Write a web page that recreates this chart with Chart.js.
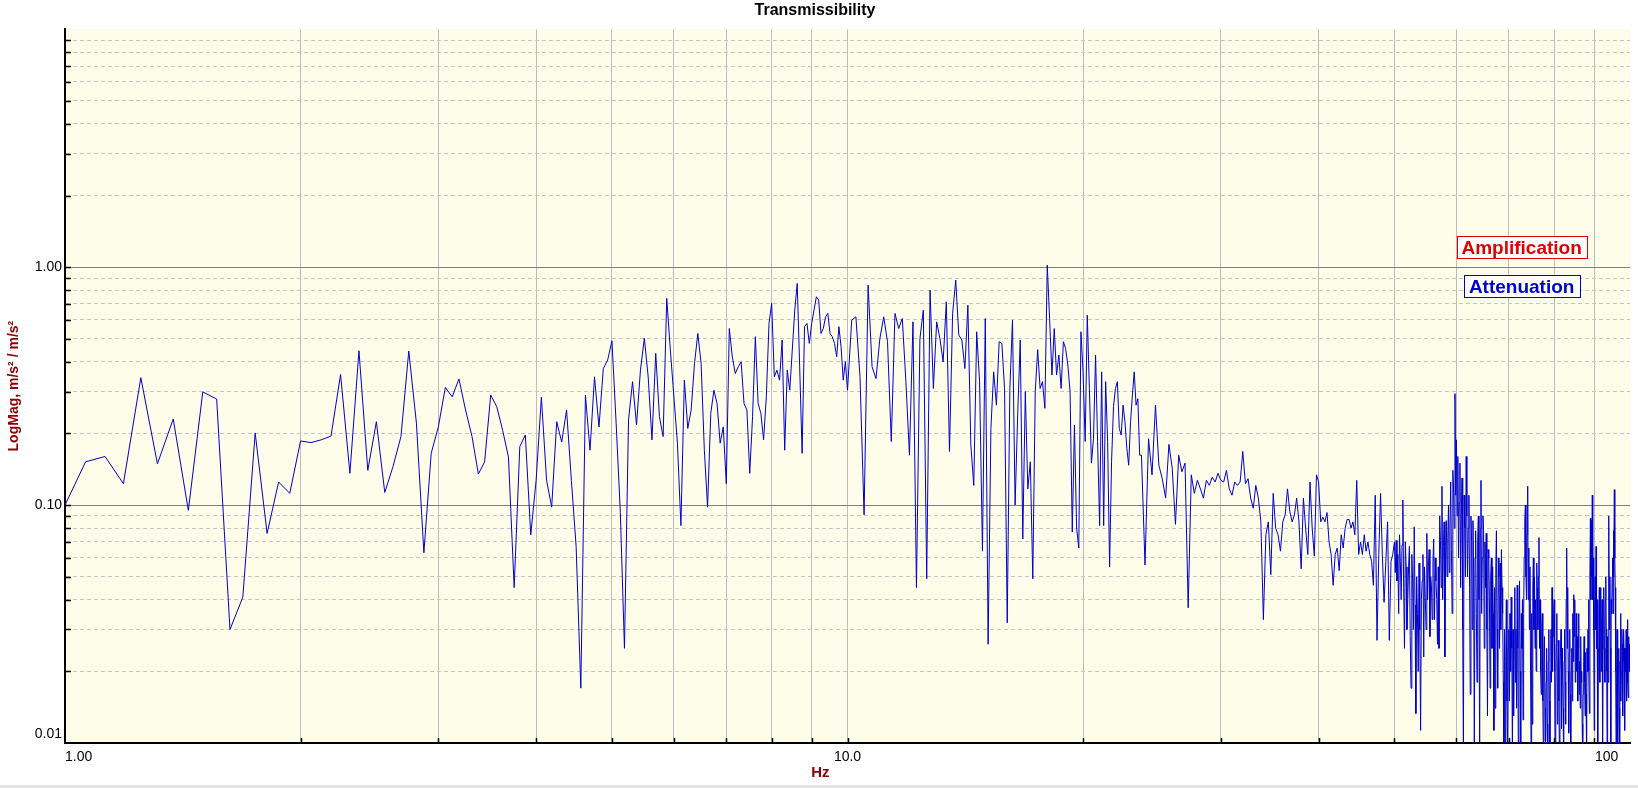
<!DOCTYPE html>
<html>
<head>
<meta charset="utf-8">
<title>Transmissibility</title>
<script src="https://cdn.jsdelivr.net/npm/chart.js@4.4.1/dist/chart.umd.min.js"></script>
<style>
  html, body { margin: 0; padding: 0; background: #fff; }
  #wrap { position: relative; width: 1638px; height: 788px; overflow: hidden; }
  #bottomEdge { position: absolute; left: 0; top: 785px; width: 1638px; height: 3px; background: #e4e4e4; }
</style>
</head>
<body>
<div id="wrap">
  <canvas id="myChart" width="1638" height="788"></canvas>
  <div id="bottomEdge"></div>
</div>
<script>
// transmissibility magnitude
// 1.0 - 9.9375 Hz, one value every 1/16 Hz
const lowStart = 1.0, lowStep = 0.0625;
const magLow = [
  0.100,0.152,0.160,0.123,0.343,0.149,0.230,0.095,0.299,0.279,0.030,0.041,0.201,0.076,0.125,0.112,
  0.186,0.183,0.188,0.195,0.354,0.136,0.445,0.140,0.224,0.113,0.145,0.194,0.444,0.221,0.063,0.165,
  0.213,0.312,0.285,0.339,0.251,0.194,0.135,0.152,0.290,0.259,0.206,0.159,0.045,0.176,0.197,0.075,
  0.127,0.284,0.127,0.098,0.224,0.184,0.251,0.127,0.067,0.017,0.290,0.170,0.346,0.213,0.375,0.407,
  0.490,0.220,0.093,0.025,0.228,0.330,0.217,0.369,0.503,0.346,0.188,0.434,0.235,0.194,0.739,0.448,
  0.285,0.182,0.082,0.335,0.210,0.251,0.394,0.526,0.394,0.170,0.098,0.243,0.304,0.267,0.182,0.213,
  0.123,0.552,0.420,0.357,0.381,0.400,0.267,0.251,0.136,0.235,0.510,0.267,0.243,0.188,0.285,0.580,
  0.704,0.346,0.369,0.335,0.494,0.170,0.369,0.304,0.448,0.660,0.854,0.381,0.165,0.562,0.580,0.478,
  0.580,0.660,0.751,0.727,0.526,0.552,0.618,0.639,0.526,0.510,0.478,0.420,0.562,0.463,0.335,0.400
];
// 10.0 - 23.625 Hz, every 1/8 Hz
const midStart = 10.0, midStep = 0.125;
const magMid = [
  0.304,0.599,0.618,0.346,0.091,0.840,0.381,0.340,
  0.501,0.618,0.486,0.185,0.639,0.552,0.608,0.330,
  0.162,0.589,0.045,0.500,0.660,0.049,0.800,0.309,
  0.589,0.500,0.400,0.715,0.168,0.639,0.882,0.518,
  0.494,0.375,0.692,0.179,0.121,0.535,0.330,0.064,
  0.608,0.026,0.210,0.363,0.263,0.486,0.478,0.309,
  0.032,0.309,0.599,0.100,0.239,0.494,0.072,0.300,
  0.117,0.152,0.049,0.300,0.450,0.309,0.330,0.255,
  1.020,0.608,0.352,0.552,0.352,0.427,0.309,0.486,
  0.455,0.388,0.300,0.077,0.217,0.080,0.066,0.535,
  0.363,0.185,0.628,0.309,0.150,0.191,0.427,0.185,
  0.082,0.363,0.082,0.330,0.185,0.055,0.152,0.260,
  0.309,0.330,0.210,0.197,0.263,0.224,0.173,0.147,
  0.224,0.290,0.363,0.263,0.280,0.162
];
// 23.75 - 50 Hz, every 1/4 Hz
const highStart = 23.75, highStep = 0.25;
const magHigh = [
  0.162,0.056,0.190,0.134,0.263,0.147,0.129,0.107,
  0.180,0.143,0.083,0.162,0.138,0.150,0.037,0.134,
  0.112,0.127,0.117,0.107,0.127,0.121,0.131,0.125,
  0.136,0.127,0.125,0.140,0.117,0.110,0.125,0.121,
  0.125,0.168,0.123,0.129,0.107,0.097,0.121,0.107,
  0.085,0.033,0.075,0.085,0.051,0.112,0.080,0.075,
  0.064,0.085,0.091,0.117,0.094,0.085,0.091,0.107,
  0.085,0.054,0.107,0.080,0.062,0.125,0.080,0.061,
  0.134,0.125,0.085,0.089,0.085,0.093,0.070,0.062,
  0.046,0.062,0.066,0.053,0.075,0.066,0.080,0.087,
  0.087,0.080,0.085,0.075,0.127,0.062,0.070,0.062,
  0.075,0.064,0.070,0.062,0.058,0.046,0.110,0.027,
  0.062,0.112,0.062,0.039,0.058,0.085,0.027,0.058,
  0.062,0.070
];
// 50.125 - 100 Hz, every 1/8 Hz (the dense noisy tail)
const topStart = 50.125, topStep = 0.125;
const magTop = [
  0.052,0.071,0.048,0.062,0.035,0.075,0.058,0.040,0.068,0.105,0.045,0.025,0.070,0.055,0.030,0.040,
  0.055,0.067,0.028,0.017,0.062,0.048,0.030,0.081,0.038,0.0133,0.050,0.035,0.020,0.057,0.030,0.0113,
  0.040,0.048,0.062,0.023,0.055,0.041,0.030,0.076,0.040,0.055,0.065,0.028,0.050,0.046,0.033,0.058,
  0.072,0.033,0.060,0.048,0.040,0.026,0.055,0.025,0.090,0.071,0.045,0.120,0.040,0.067,0.085,0.023,
  0.060,0.086,0.050,0.073,0.100,0.052,0.080,0.125,0.065,0.035,0.140,0.118,0.080,0.294,0.110,0.188,
  0.090,0.160,0.060,0.102,0.150,0.045,0.090,0.130,0.030,0.009,0.110,0.080,0.050,0.160,0.090,0.050,
  0.080,0.110,0.045,0.016,0.090,0.070,0.030,0.086,0.050,0.009,0.060,0.078,0.035,0.018,0.070,0.090,
  0.040,0.009,0.080,0.127,0.035,0.060,0.090,0.078,0.025,0.070,0.045,0.076,0.030,0.013,0.065,0.060,
  0.040,0.017,0.050,0.060,0.025,0.055,0.035,0.0113,0.045,0.014,0.055,0.078,0.030,0.017,0.060,0.050,
  0.025,0.057,0.030,0.065,0.045,0.035,0.018,0.009,0.030,0.009,0.022,0.040,0.015,0.009,0.025,0.030,
  0.015,0.035,0.020,0.041,0.025,0.009,0.030,0.013,0.025,0.045,0.018,0.030,0.014,0.046,0.025,0.009,
  0.030,0.048,0.020,0.009,0.035,0.025,0.040,0.0125,0.035,0.060,0.085,0.100,0.050,0.040,0.075,0.120,
  0.040,0.066,0.030,0.055,0.020,0.009,0.035,0.012,0.045,0.060,0.030,0.050,0.025,0.040,0.020,0.057,
  0.045,0.030,0.050,0.073,0.025,0.040,0.020,0.016,0.030,0.035,0.015,0.009,0.022,0.028,0.014,0.009,
  0.018,0.025,0.012,0.009,0.022,0.030,0.015,0.009,0.020,0.030,0.018,0.045,0.020,0.028,0.035,0.040,
  0.020,0.009,0.018,0.026,0.035,0.012,0.020,0.027,0.015,0.009,0.020,0.024,0.030,0.0115,0.025,0.020,
  0.014,0.009,0.022,0.030,0.018,0.012,0.040,0.066,0.025,0.045,0.020,0.011,0.024,0.030,0.016,0.009,
  0.020,0.025,0.015,0.035,0.022,0.042,0.028,0.040,0.018,0.025,0.035,0.020,0.028,0.015,0.025,0.035,
  0.016,0.022,0.014,0.028,0.018,0.020,0.012,0.009,0.016,0.022,0.028,0.018,0.013,0.024,0.016,0.009,
  0.025,0.020,0.030,0.040,0.020,0.0133,0.050,0.088,0.040,0.086,0.050,0.110,0.040,0.060,0.030,0.0113,
  0.035,0.050,0.030,0.067,0.025,0.040,0.020,0.009,0.025,0.035,0.045,0.018,0.030,0.045,0.020,0.030,
  0.040,0.009,0.025,0.035,0.045,0.025,0.018,0.040,0.050,0.030,0.020,0.009,0.028,0.018,0.040,0.090,
  0.030,0.050,0.025,0.009,0.040,0.035,0.050,0.060,0.035,0.078,0.050,0.116,0.060,0.045,0.020,0.009,
  0.018,0.030,0.014,0.009,0.020,0.025,0.014,0.009,0.022,0.035,0.015,0.020,0.030,0.026,0.013,0.022,
  0.030,0.025,0.016,0.0113,0.025,0.020,0.030,0.015,0.022,0.033,0.018,0.0155,0.028,0.020,0.026,0.022
];

const xLabels = { 1: '1.00', 10: '10.0', 100: '100   ' };
const yLabels = { 0.01: ['0.01', ''], 0.1: '0.10', 1: '1.00' };

// the two boxed notes either side of the 1.00 line
const noteText = ['Amplification', 'Attenuation'];
const noteColor = ['#e00000', '#0000cc'];
const noteLevel = [1.21, 0.83];
const noteHz = 72.7;

const FONT = "'Liberation Sans', Arial, sans-serif";

const pts = [];
function addSeg(start, step, vals) {
  for (let i = 0; i < vals.length; i++) {
    pts.push({ x: start + i * step, y: vals[i] });
  }
}
addSeg(lowStart, lowStep, magLow);
addSeg(midStart, midStep, magMid);
addSeg(highStart, highStep, magHigh);
addSeg(topStart, topStep, magTop);

function logTicks(lo, hi) {
  const out = [];
  for (let d = lo; d < hi * 0.999; d *= 10) {
    for (let k = 1; k < 10; k++) out.push(+(k * d).toPrecision(3));
  }
  out.push(hi);
  return out;
}
const xTicks = logTicks(1, 100);
const yTicks = logTicks(0.01, 10);

function isDecade(v) {
  const l = Math.log10(v);
  return Math.abs(l - Math.round(l)) < 1e-6;
}

const plotBg = {
  id: 'plotBg',
  beforeDraw(chart) {
    const { ctx, chartArea: a } = chart;
    ctx.save();
    ctx.fillStyle = '#fff';
    ctx.fillRect(0, 0, chart.width, chart.height);
    ctx.fillStyle = 'rgb(253,253,234)';
    ctx.fillRect(a.left, a.top, a.right - a.left, a.bottom - a.top);
    ctx.restore();
  }
};

// short tick marks pointing into the plot
const innerTicks = {
  id: 'innerTicks',
  afterDraw(chart) {
    const { ctx, chartArea: a, scales: { x, y } } = chart;
    ctx.save();
    ctx.strokeStyle = '#000';
    ctx.lineWidth = 1.5;
    ctx.beginPath();
    yTicks.forEach(v => {
      if (v <= 0.01 || v >= 10) return;
      const py = Math.round(y.getPixelForValue(v)) + 0.5;
      ctx.moveTo(a.left, py);
      ctx.lineTo(a.left + 6, py);
    });
    xTicks.forEach(v => {
      if (v <= 1 || v >= 100) return;
      const px = Math.round(x.getPixelForValue(v)) + 0.5;
      ctx.moveTo(px, a.bottom);
      ctx.lineTo(px, a.bottom - 5);
    });
    ctx.stroke();
    ctx.restore();
  }
};

const notes = {
  id: 'notes',
  afterDatasetsDraw(chart) {
    const { ctx, scales: { x, y } } = chart;
    ctx.save();
    ctx.font = 'bold 19px ' + FONT;
    ctx.textAlign = 'center';
    ctx.textBaseline = 'middle';
    for (let i = 0; i < noteText.length; i++) {
      const cx = x.getPixelForValue(noteHz);
      const cy = y.getPixelForValue(noteLevel[i]);
      const w = Math.round(ctx.measureText(noteText[i]).width + 10);
      const h = 22;
      const left = Math.round(cx - w / 2) + 0.5, top = Math.round(cy - h / 2) + 0.5;
      ctx.fillStyle = '#fff';
      ctx.fillRect(left, top, w, h);
      ctx.strokeStyle = noteColor[i];
      ctx.lineWidth = 1;
      ctx.strokeRect(left, top, w, h);
      ctx.fillStyle = noteColor[i];
      ctx.fillText(noteText[i], cx, cy + 1);
    }
    ctx.restore();
  }
};

const ctx = document.getElementById('myChart').getContext('2d');
const myChart = new Chart(ctx, {
  type: 'line',
  data: {
    datasets: [{
      label: 'Transmissibility',
      data: pts,
      borderColor: '#0000cd',
      borderWidth: 1,
      pointRadius: 0,
      fill: false,
      tension: 0
    }]
  },
  options: {
    responsive: false,
    animation: false,
    devicePixelRatio: 1,
    layout: { padding: { left: 0, right: 8, top: 0, bottom: 0 } },
    plugins: {
      legend: { display: false },
      tooltip: { enabled: false },
      title: {
        display: true,
        text: 'Transmissibility',
        color: '#000',
        font: { family: FONT, size: 16, weight: 'bold' },
        padding: { top: 1, bottom: 9 }
      }
    },
    scales: {
      x: {
        type: 'logarithmic',
        position: 'bottom',
        min: 1,
        max: 100,
        afterBuildTicks: s => { s.ticks = xTicks.map(v => ({ value: v })); },
        afterFit: s => { s.height = 45; s.paddingLeft = 0; s.paddingRight = 0; },
        ticks: {
          autoSkip: false,
          maxRotation: 0,
          align: 'inner',
          padding: 6,
          color: '#000',
          font: { family: FONT, size: 14 },
          callback: v => xLabels[v] || ''
        },
        grid: {
          drawTicks: false,
          lineWidth: 1,
          color: c => {
            const v = c.tick && c.tick.value;
            if (!v || v === 1 || v === 100) return 'rgba(0,0,0,0)';
            return '#bcbcbc';
          }
        },
        border: { display: true, color: '#000', width: 2 },
        title: {
          display: true,
          text: 'Hz' + ' '.repeat(13),
          color: '#8b0000',
          font: { family: FONT, size: 15, weight: 'bold' },
          padding: { top: 0, bottom: 6 }
        }
      },
      y: {
        type: 'logarithmic',
        position: 'left',
        min: 0.01,
        max: 10,
        afterBuildTicks: s => { s.ticks = yTicks.map(v => ({ value: v })); },
        afterFit: s => { s.width = 65; s.paddingTop = 0; s.paddingBottom = 0; },
        ticks: {
          autoSkip: false,
          padding: 3,
          color: '#000',
          font: { family: FONT, size: 14 },
          callback: v => yLabels[v] || ''
        },
        grid: {
          drawTicks: false,
          lineWidth: 1,
          color: c => {
            const v = c.tick && c.tick.value;
            if (!v || v === 0.01 || v === 10) return 'rgba(0,0,0,0)';
            return isDecade(v) ? '#7f7f7f' : '#c4c4c4';
          }
        },
        border: {
          display: true,
          color: '#000',
          width: 2,
          dash: c => (c.tick && !isDecade(c.tick.value)) ? [4, 3] : []
        },
        title: {
          display: true,
          text: 'LogMag, m/s² / m/s²',
          color: '#8b0000',
          font: { family: FONT, size: 14, weight: 'bold' },
          padding: { top: 6, bottom: 0 }
        }
      }
    }
  },
  plugins: [plotBg, innerTicks, notes]
});
</script>
</body>
</html>
